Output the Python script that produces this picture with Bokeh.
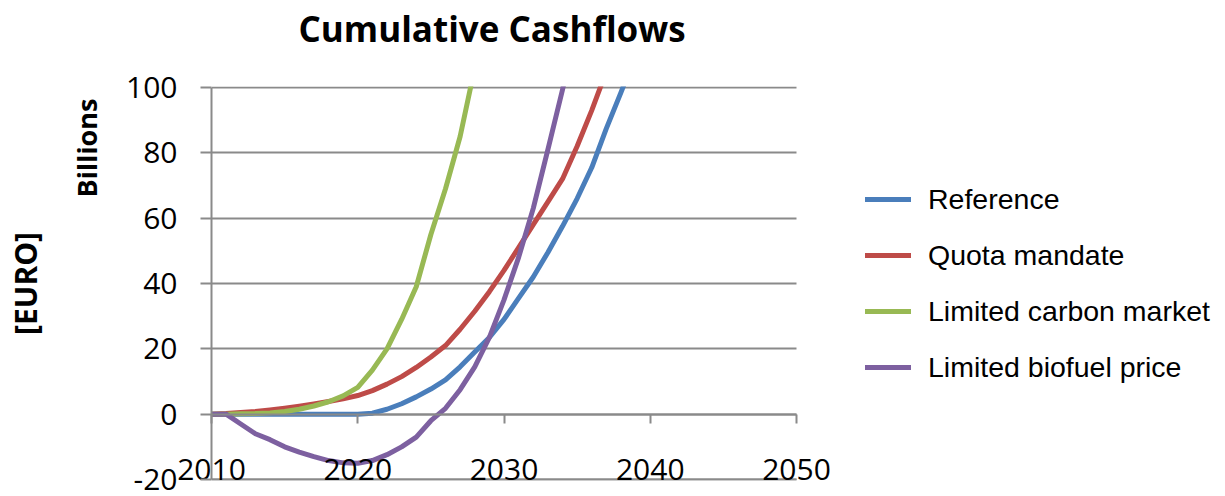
from bokeh.plotting import figure
from bokeh.models import (LinearAxis, FixedTicker, Grid, Legend, LegendItem, Title)
from bokeh.embed import file_html
from bokeh.resources import INLINE

# Cumulative cashflows per scenario, billions of EURO
years = list(range(2010, 2040))

reference = [0, 0, 0, 0, 0, 0, 0, 0, 0, 0, 0, 0.3, 1.5, 3.2, 5.3, 7.7, 10.5,
             14.5, 19, 23.5, 29, 35.5, 42, 49.5, 57.5, 66, 75.5, 87.5, 98.5, 110]
quota_mandate = [0, 0.2, 0.5, 0.8, 1.3, 1.8, 2.4, 3.1, 3.9, 4.7, 5.7, 7.2, 9.2,
                 11.5, 14.3, 17.5, 21, 26, 31.5, 37.5, 44, 51, 58, 65, 72, 82,
                 93, 105]
limited_carbon = [0, 0, 0.1, 0.2, 0.4, 0.8, 1.5, 2.5, 3.8, 5.6, 8.2, 13.5, 20,
                  29, 39, 55, 69, 85, 106]
limited_biofuel = [0, 0, -3, -6, -7.8, -10, -11.6, -13, -14.2, -14.9, -15,
                   -14.2, -12.4, -10, -7, -2, 1.8, 7.5, 14.5, 23.5, 35, 48, 63,
                   81, 99.3, 119]

series_names = ["Reference", "Quota mandate", "Limited carbon market",
                "Limited biofuel price"]
series_values = [reference, quota_mandate, limited_carbon, limited_biofuel]
series_colors = ["#4A7EBB", "#BE4B48", "#98B954", "#7D60A0"]

x_ticks = [2010, 2020, 2030, 2040, 2050]
y_ticks = [-20, 0, 20, 40, 60, 80, 100]
x_start, x_end = 2010, 2050
y_min, y_max = -20, 100

GRID = "#8a8a8a"

# The frame runs to the right edge so the legend can sit beside the curves;
# the year range is stretched so that 2010-2050 spans 585 px.
px_per_year = 585 / (x_end - x_start)
x_right = x_start + (1225 - 211) / px_per_year

# a hair of padding keeps the -20 and 100 gridlines fully inside the frame
p = figure(width=1225, height=496, x_range=(x_start, x_right),
           y_range=(y_min - 0.3, y_max + 0.3),
           x_axis_location=None, y_axis_location=None, title=None,
           output_backend="svg", toolbar_location=None,
           min_border_left=211, min_border_right=0,
           min_border_top=86, min_border_bottom=16)
p.outline_line_color = None
p.background_fill_color = "white"
for g in p.grid:
    g.visible = False

# horizontal gridlines over the 2010-2050 span
p.add_layout(Grid(dimension=1, ticker=FixedTicker(ticks=y_ticks),
                  bounds=(y_min - 1, y_max + 1),
                  cross_bounds=(x_start, x_end),
                  grid_line_color=GRID, grid_line_width=2))

# bottom edge line of the plot area at -20
bottom_rule = LinearAxis(ticker=FixedTicker(ticks=[]), fixed_location=y_min,
                         bounds=(x_start, x_end))
bottom_rule.axis_line_color = GRID
bottom_rule.axis_line_width = 2
bottom_rule.minor_tick_line_color = None
p.add_layout(bottom_rule, "below")

# value axis
yaxis = LinearAxis(ticker=FixedTicker(ticks=y_ticks), bounds=(y_min, y_max))
yaxis.axis_line_color = GRID
yaxis.axis_line_width = 2
yaxis.major_tick_line_color = GRID
yaxis.major_tick_line_width = 2
yaxis.major_tick_out = 11
yaxis.major_tick_in = 0
yaxis.minor_tick_line_color = None
yaxis.major_label_standoff = 23
yaxis.major_label_text_font = "Open Sans"
yaxis.major_label_text_font_size = "30px"
yaxis.major_label_text_color = "black"
yaxis.major_label_overrides = {-20: "-20"}
p.add_layout(yaxis, "left")

# unit captions left of the value axis
p.add_layout(Title(text="Billions", align="right", offset=12,
                   vertical_align="middle", standoff=35,
                   text_font="Open Sans", text_font_style="bold",
                   text_font_size="27px", text_color="black"), "left")
p.add_layout(Title(text="[EURO]", align="center",
                   vertical_align="middle", standoff=6,
                   text_font="Open Sans", text_font_style="bold",
                   text_font_size="30px", text_color="black"), "left")

# year axis line crossing at zero
xaxis0 = LinearAxis(ticker=FixedTicker(ticks=[]), fixed_location=0,
                    bounds=(x_start, x_end))
xaxis0.axis_line_color = GRID
xaxis0.axis_line_width = 2
xaxis0.minor_tick_line_color = None
p.add_layout(xaxis0, "below")

# year ticks (hanging from the zero line) and labels near the bottom
xaxis = LinearAxis(ticker=FixedTicker(ticks=x_ticks))
xaxis.axis_line_color = None
xaxis.major_tick_line_color = GRID
xaxis.major_tick_line_width = 2
xaxis.major_tick_in = 66
xaxis.major_tick_out = -57
xaxis.minor_tick_line_color = None
xaxis.major_label_standoff = -22
xaxis.major_label_text_font = "Open Sans"
xaxis.major_label_text_font_size = "30px"
xaxis.major_label_text_color = "black"
p.add_layout(xaxis, "below")

items = []
for name, vals, color in zip(series_names, series_values, series_colors):
    r = p.line(years[:len(vals)], vals, line_color=color, line_width=5,
               line_join="round", line_cap="round")
    items.append(LegendItem(label=name, renderers=[r]))

legend = Legend(items=items, location=(654, 93), orientation="vertical",
                padding=0, margin=0, spacing=16, glyph_width=46,
                glyph_height=40, label_height=40, label_standoff=17,
                label_text_font="Liberation Sans",
                label_text_font_size="28.5px",
                label_text_color="black", border_line_color=None,
                background_fill_alpha=0)
p.add_layout(legend)

# chart title, kept clear of the plot area by a blank strip
p.add_layout(Title(text=" ", text_font_size="1px", standoff=26), "above")
p.add_layout(Title(text="Cumulative Cashflows", align="left", offset=87,
                   vertical_align="top", standoff=7,
                   text_font="Open Sans", text_font_style="bold",
                   text_font_size="35px", text_color="black"), "above")

open("out.html", "w").write(file_html(p, INLINE))
